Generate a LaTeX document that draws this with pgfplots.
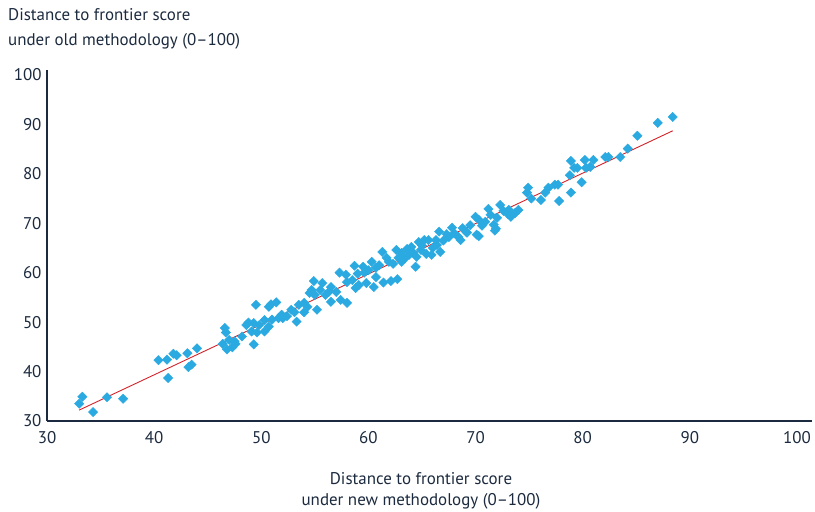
\documentclass[border=0pt]{standalone}
\usepackage{fontspec}
\setmainfont{PT Sans}
\usepackage{pgfplots}
\pgfplotsset{compat=1.18}
\definecolor{navy}{HTML}{1B2A3E}
\definecolor{dotblue}{HTML}{2AAAE1}
\definecolor{fitred}{HTML}{D2232A}
\begin{document}
\begin{tikzpicture}[x=1bp,y=1bp]
\path[use as bounding box] (0,0) rectangle (815,512);
\begin{axis}[
  at={(47bp,91bp)}, anchor=south west,
  scale only axis, width=765bp, height=351bp,
  xmin=30, xmax=101.4, ymin=30, ymax=101,
  axis x line=bottom, axis y line=left,
  axis line style={navy, line width=1.8pt, -},
  xtick={30,40,...,100}, ytick={30,40,...,100},
  major tick length=0pt,
  tick label style={font=\fontsize{17}{20}\selectfont, text=navy},
  /pgf/number format/assume math mode=true,
  xticklabel style={yshift=-7bp},
  yticklabel style={xshift=-2bp},
  clip=false,
]
\addplot[only marks, mark=square*, mark size=3.3bp, color=dotblue,
  mark options={rotate=45, draw=dotblue, fill=dotblue}] coordinates {
(33.0,33.5) (33.3,34.9) (34.3,31.8) (35.6,34.8) (37.1,34.5)
(40.4,42.3) (41.2,42.4) (41.3,38.7) (41.8,43.6) (42.1,43.3)
(43.1,43.7) (43.2,40.9) (43.5,41.4) (44.0,44.7)
(46.4,45.6) (46.6,48.8) (46.7,47.9) (46.8,44.5) (47.0,46.4)
(47.3,44.9) (47.5,46.1) (47.6,45.6) (48.2,47.1) (48.6,49.4)
(48.8,49.9) (49.1,48.1) (49.3,49.8) (49.3,45.5) (49.5,53.5)
(49.6,47.9) (49.8,49.4) (50.3,50.4) (50.3,48.1) (50.7,49.1)
(50.7,53.1) (50.9,53.6) (51.4,54.0) (51.6,50.8) (52.4,51.2)
(53.1,52.0) (53.3,50.1) (53.5,53.5) (54.0,53.9) (54.0,52.0)
(54.3,53.1) (54.5,55.9) (54.7,56.5) (54.9,58.3) (55.2,52.5)
(55.7,57.9) (56.3,56.1) (56.5,57.1) (56.5,54.1) (57.0,56.1)
(57.3,60.0) (57.4,54.5) (57.9,59.6) (58.0,58.1) (58.0,53.9)
(58.7,61.4) (58.8,56.9) (59.1,57.5) (59.5,61.2) (59.8,57.9)
(60.3,62.2) (60.5,57.1) (60.7,61.0) (60.7,59.1) (61.3,64.2)
(61.4,58.0) (61.9,62.2) (62.1,58.3) (62.6,64.6) (62.7,58.7)
(62.8,63.0) (63.1,64.0) (63.1,62.2) (63.4,62.9) (63.8,63.6)
(64.0,65.2) (64.4,61.2) (64.5,63.2) (64.7,66.2) (64.9,64.6)
(65.2,66.6) (65.6,66.6) (65.9,63.6) (66.3,66.6) (66.4,65.6)
(66.6,68.3) (66.7,64.2) (67.5,67.2) (67.8,69.1) (68.4,67.2)
(68.6,66.6) (69.1,68.3) (69.2,68.1) (70.0,71.3) (70.1,67.7)
(70.3,70.7) (70.3,67.4) (70.9,70.3) (71.2,72.9) (71.4,71.7)
(71.7,69.7) (71.8,68.5) (71.9,68.9) (72.0,71.1) (72.3,73.7)
(73.1,72.7) (73.3,71.3) (73.7,72.1) (74.0,72.7) (74.8,76.2)
(74.9,77.2) (75.2,75.0) (76.1,74.7) (76.5,76.2) (76.8,77.2)
(77.4,77.8) (77.7,77.8) (77.8,74.5) (78.8,79.7) (78.9,82.6)
(78.9,76.2) (79.2,81.2) (79.5,81.2) (79.9,78.3) (80.2,82.8)
(80.3,81.2) (80.7,81.4) (81.0,82.8) (82.1,83.4) (82.4,83.4)
(83.5,83.4) (84.2,85.1) (85.1,87.7) (87.0,90.3) (88.4,91.5)
(51.0,50.5) (51.9,51.5) (52.0,50.8) (52.8,52.5) (55.0,55.5)
(55.5,56.5) (56.0,55.5) (58.5,58.5) (59.0,59.8) (59.6,60.0)
(60.0,60.5) (61.0,61.5) (61.7,63.0) (62.3,61.8) (63.6,64.8)
(64.2,64.0) (65.0,65.5) (65.4,63.8) (66.0,65.0) (67.0,66.5)
(67.3,67.8) (68.0,68.0) (68.8,69.0) (69.5,69.6) (70.6,69.5)
(72.6,72.5) (73.0,71.9)
};
\addplot[fitred, line width=0.9pt] coordinates {(33.0,32.2) (88.4,88.7)};
\end{axis}
\node[anchor=north west, align=left, text=navy, font=\fontsize{17}{25}\selectfont, inner sep=0pt] at (8,504) {Distance to frontier score\\under old methodology (0--100)};
\node[anchor=north, align=center, text=navy, font=\fontsize{17}{21}\selectfont, inner sep=0pt] at (421,40) {Distance to frontier score\\under new methodology (0--100)};
\end{tikzpicture}
\end{document}
